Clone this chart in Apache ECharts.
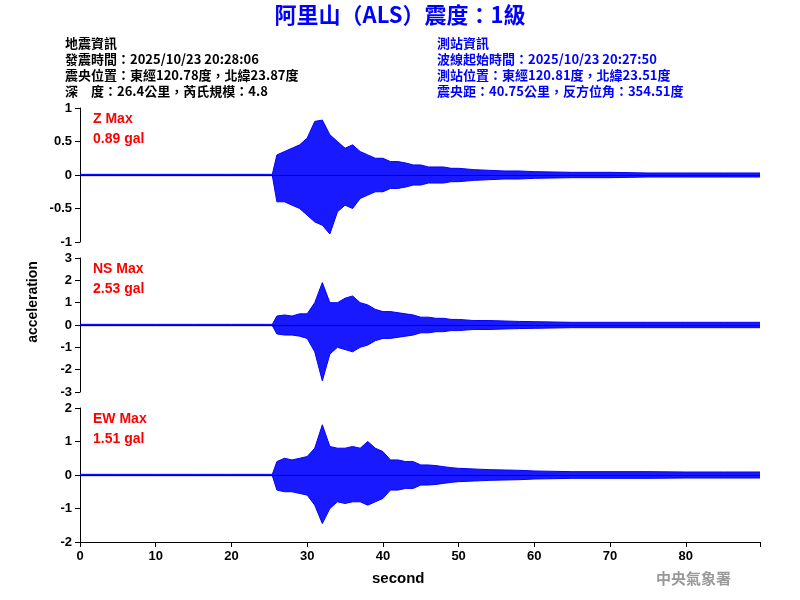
<!DOCTYPE html>
<html><head><meta charset="utf-8">
<script src="https://cdn.jsdelivr.net/npm/echarts@6/dist/echarts.min.js"></script>
<style>html,body{margin:0;background:#fff}#c{width:800px;height:600px}</style>
</head><body><div id="c"></div>
<script>
// envelope of each trace (seconds, gal scaled)
const times = [0,5,10,15,20,25,25.4,26,27,28,29,30,31,32,33,34,35,36,37,38,39,40,41,42,43,44,45,46,47,48,49,50,52,54,56,58,60,65,70,75,80,85,89.8];
const zUpper = [0.01,0.01,0.01,0.01,0.01,0.01,0.01,0.3,0.35,0.4,0.45,0.55,0.8,0.82,0.6,0.5,0.4,0.45,0.35,0.3,0.25,0.25,0.2,0.2,0.18,0.15,0.15,0.12,0.12,0.12,0.1,0.1,0.08,0.07,0.06,0.06,0.05,0.04,0.04,0.03,0.03,0.03,0.03];
const zLower = [-0.01,-0.01,-0.01,-0.01,-0.01,-0.01,-0.01,-0.4,-0.4,-0.45,-0.5,-0.6,-0.7,-0.75,-0.88,-0.55,-0.45,-0.5,-0.35,-0.3,-0.25,-0.25,-0.2,-0.2,-0.18,-0.15,-0.15,-0.12,-0.12,-0.12,-0.1,-0.1,-0.08,-0.07,-0.06,-0.06,-0.05,-0.04,-0.04,-0.03,-0.03,-0.03,-0.03];
const nsUpper = [0.03,0.03,0.03,0.03,0.03,0.03,0.03,0.4,0.45,0.4,0.5,0.5,1.0,1.9,1.0,1.0,1.2,1.3,1.0,0.9,0.7,0.6,0.6,0.55,0.5,0.45,0.35,0.35,0.3,0.3,0.25,0.25,0.2,0.2,0.18,0.16,0.15,0.12,0.12,0.12,0.12,0.12,0.12];
const nsLower = [-0.03,-0.03,-0.03,-0.03,-0.03,-0.03,-0.03,-0.4,-0.45,-0.45,-0.5,-0.6,-1.2,-2.5,-1.3,-1.0,-1.1,-1.2,-1.0,-0.9,-0.7,-0.6,-0.6,-0.55,-0.5,-0.45,-0.35,-0.35,-0.3,-0.3,-0.25,-0.25,-0.2,-0.2,-0.18,-0.16,-0.15,-0.12,-0.12,-0.12,-0.12,-0.12,-0.12];
const ewUpper = [0.02,0.02,0.02,0.02,0.02,0.02,0.02,0.4,0.5,0.45,0.5,0.55,0.8,1.5,0.85,0.8,0.8,0.85,0.8,1.0,0.8,0.7,0.45,0.45,0.4,0.4,0.3,0.3,0.28,0.25,0.22,0.2,0.18,0.16,0.15,0.14,0.12,0.1,0.1,0.1,0.09,0.09,0.09];
const ewLower = [-0.02,-0.02,-0.02,-0.02,-0.02,-0.02,-0.02,-0.45,-0.5,-0.5,-0.55,-0.6,-0.9,-1.45,-1.0,-0.8,-0.85,-0.8,-0.8,-0.9,-0.8,-0.7,-0.45,-0.45,-0.4,-0.4,-0.3,-0.3,-0.28,-0.25,-0.22,-0.2,-0.18,-0.16,-0.15,-0.14,-0.12,-0.1,-0.1,-0.1,-0.09,-0.09,-0.09];
const traces = [
  {name:'Z', max:'0.89 gal', upper:zUpper, lower:zLower, lim:1, step:0.5},
  {name:'NS', max:'2.53 gal', upper:nsUpper, lower:nsLower, lim:3, step:1},
  {name:'EW', max:'1.51 gal', upper:ewUpper, lower:ewLower, lim:2, step:1}
];
const leftInfo = ['地震資訊','發震時間：2025/10/23 20:28:06','震央位置：東經120.78度，北緯23.87度','深　度：26.4公里，芮氏規模：4.8'];
const rightInfo = ['測站資訊','波線起始時間：2025/10/23 20:27:50','測站位置：東經120.81度，北緯23.51度','震央距：40.75公里，反方位角：354.51度'];

const tops = [108, 258, 408];
const grid = [], xAxis = [], yAxis = [], series = [], graphic = [];
traces.forEach((tr, i) => {
  grid.push({left:80, width:680, top:tops[i], height:134});
  xAxis.push({type:'value', gridIndex:i, min:0, max:89.8, interval:10,
    show: i === 2,
    axisLine:{onZero:false, lineStyle:{color:'#000'}}, axisTick:{lineStyle:{color:'#000'}},
    axisLabel:{color:'#000', fontSize:13, fontWeight:'bold', fontFamily:'Arial', formatter: v => v % 10 === 0 ? v : ''},
    splitLine:{show:false}});
  yAxis.push({type:'value', gridIndex:i, min:-tr.lim, max:tr.lim, interval:tr.step,
    axisLine:{show:true, lineStyle:{color:'#000'}}, axisTick:{show:true, lineStyle:{color:'#000'}},
    axisLabel:{color:'#000', fontSize:13, fontWeight:'bold', fontFamily:'Arial'}, splitLine:{show:false}});
  [tr.upper, tr.lower].forEach((arr, k) => {
    series.push({type:'line', xAxisIndex:i, yAxisIndex:i, symbol:'none', silent:true,
      data: times.map((t, j) => [t, arr[j]]),
      lineStyle:{color:'#0000ff', width:1}, areaStyle:{color:'#0000ff', opacity:0.9, origin:0},
      markLine: k === 0 ? {symbol:'none', silent:true, label:{show:false},
        lineStyle:{color:'#000', width:1, type:'solid'}, data:[{yAxis:0}]} : undefined});
  });
  graphic.push({type:'text', left:93, top:tops[i] + 1, style:{text:tr.name + ' Max\n' + tr.max,
    fill:'#ff0000', font:'bold 14px Arial', lineHeight:20}});
});
graphic.push({type:'text', left:'center', top:4, style:{text:'阿里山（ALS）震度：1級', fill:'#0000ff',
  font:'bold 22px "Noto Sans CJK TC"'}});
graphic.push({type:'text', left:65, top:35, style:{text:leftInfo.join('\n'), fill:'#000',
  font:'bold 13px "Noto Sans CJK TC"', lineHeight:16}});
graphic.push({type:'text', left:437, top:35, style:{text:rightInfo.join('\n'), fill:'#0000ff',
  font:'bold 13px "Noto Sans CJK TC"', lineHeight:16}});
graphic.push({type:'text', rotation:Math.PI/2, style:{text:'acceleration', fill:'#000',
  font:'bold 14px Arial', align:'center', verticalAlign:'middle'}, x:33, y:302});
graphic.push({type:'text', left:372, top:571, style:{text:'second', fill:'#000', font:'bold 15px Arial'}});
graphic.push({type:'text', left:656, top:571, style:{text:'中央氣象署', fill:'#999', font:'bold 15px "Noto Sans CJK TC"'}});

const chart = echarts.init(document.getElementById('c'), null, {renderer:'canvas'});
chart.setOption({animation:false, grid, xAxis, yAxis, series, graphic});
</script></body></html>
